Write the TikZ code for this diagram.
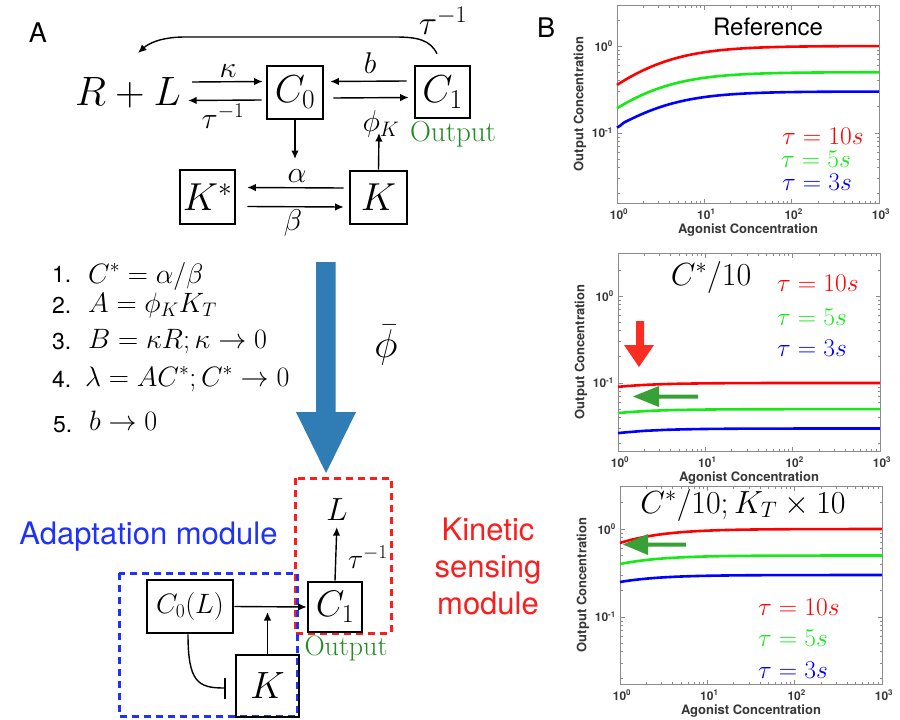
\RequirePackage{fix-cm}
\documentclass[tikz,border=0pt]{standalone}
\usepackage{fontspec}
\usetikzlibrary{arrows.meta,calc}
\newfontfamily\hv{TeX Gyre Heros}
\definecolor{outgreen}{RGB}{34,139,34}
\definecolor{bigblue}{RGB}{47,125,180}
\definecolor{modblue}{RGB}{30,50,250}
\definecolor{modred}{RGB}{250,30,30}
\definecolor{cred}{RGB}{255,0,0}
\definecolor{cgreen}{RGB}{20,235,20}
\definecolor{cblue}{RGB}{0,0,255}
\definecolor{axgray}{RGB}{140,140,140}
\definecolor{labgray}{RGB}{55,55,55}
\definecolor{arrred}{RGB}{250,45,35}
\definecolor{arrgreen}{RGB}{55,160,55}
% #1 X0, #2 Ytop, #3 Ybot, #4 Y of 10^0, #5 decade length
\newcommand{\plotaxes}[5]{%
  \draw[axgray,line width=0.8pt] (#1,#2) rectangle ({#1+262},#3);
  \foreach \d in {0,1,2}{\foreach \m in {2,...,9}{
    \draw[axgray,line width=0.6pt] ({#1+87.33*(\d+log10(\m))},#3) -- ++(0,-2.5)
      ({#1+87.33*(\d+log10(\m))},#2) -- ++(0,2.5);}}
  \foreach \d in {1,2}{
    \draw[axgray,line width=0.6pt] ({#1+87.33*\d},#3) -- ++(0,-4.5)
      ({#1+87.33*\d},#2) -- ++(0,4.5);}
  \foreach \v in {0.02,0.03,0.04,0.05,0.06,0.07,0.08,0.09,0.2,0.3,0.4,0.5,0.6,0.7,0.8,0.9,2}{
    \draw[axgray,line width=0.6pt] (#1,{#4-#5*log10(\v)}) -- ++(2.5,0)
      ({#1+262},{#4-#5*log10(\v)}) -- ++(-2.5,0);}
  \foreach \w in {0,1}{
    \draw[axgray,line width=0.6pt] (#1,{#4+#5*\w}) -- ++(4.5,0)
      ({#1+262},{#4+#5*\w}) -- ++(-4.5,0);}
  \node[ticklab,anchor=east] at ({#1-4},#4) {10\textsuperscript{0}};
  \node[ticklab,anchor=east] at ({#1-4},{#4+#5}) {10\textsuperscript{-1}};
  \foreach \d in {0,1,2,3}{
    \node[ticklab,anchor=north] at ({#1+87.33*\d+2},{#3+6}) {10\textsuperscript{\d}};}
  \node[axlab] at ({#1+131},{#3+27}) {Agonist Concentration};
  \node[axlab,rotate=90] at ({#1-37},{(#2+#3)/2}) {Output Concentration};
}
\begin{document}
\begin{tikzpicture}[x=1pt,y=-1pt,
  big/.style={inner sep=0pt,font=\fontsize{41}{45}\selectfont},
  boxn/.style={draw,line width=2.6pt,inner sep=0pt,font=\fontsize{39}{45}\selectfont},
  rate/.style={inner sep=0pt,font=\fontsize{30}{34}\selectfont},
  arr/.style={line width=1.4pt,-{Latex[length=8.5pt,width=7.5pt]}},
  num/.style={inner sep=0pt,anchor=base west,font=\hv\fontsize{23}{23}\selectfont},
  eq/.style={inner sep=0pt,anchor=base west,font=\fontsize{28}{30}\selectfont},
  dashbox/.style={line width=3pt,dash pattern=on 7pt off 5pt},
  modlab/.style={inner sep=0pt,font=\hv\fontsize{31}{37}\selectfont,align=center},
  curve/.style={line width=2.6pt},
  leg/.style={inner sep=0pt,anchor=west,font=\fontsize{25.5}{28}\selectfont},
  ticklab/.style={inner sep=0pt,font=\hv\bfseries\fontsize{12}{12}\selectfont,text=labgray},
  axlab/.style={inner sep=0pt,font=\hv\bfseries\fontsize{13}{13}\selectfont,text=labgray},
  panel/.style={inner sep=0pt,font=\hv\fontsize{27}{27}\selectfont},
  outlab/.style={inner sep=0pt,text=outgreen,font=\fontsize{29}{32}\selectfont},
]
\useasboundingbox (0,0) rectangle (900,720);
\fill[white] (0,0) rectangle (900,720);

% ---------- panel labels
\node[panel] (A) at (38,33) {A};
\node[panel] (B) at (546,28) {B};

% ---------- top reaction scheme
\node[big] (RL) at (128,93) {$R+L$};
\node[boxn,minimum width=56,minimum height=53] (C0) at (295,92.5) {$C_0$};
\node[boxn,minimum width=55,minimum height=52] (C1) at (442.5,92) {$C_1$};
\node[boxn,minimum width=55,minimum height=54] (Ks) at (207.5,197) {$K^*$};
\node[boxn,minimum width=57,minimum height=53] (K) at (378.5,197.5) {$K$};

\draw[arr] ($(RL.east)+(11,-11)$) -- ($(C0.west)+(-3,-11)$);
\draw[arr] ($(C0.west)+(-4,7.5)$) -- ($(RL.east)+(7,7.5)$);
\draw[arr] ($(C1.west)+(-7,-11)$) -- ($(C0.east)+(6,-11)$);
\draw[arr] ($(C0.east)+(9,5.5)$) -- ($(C1.west)+(-5,5.5)$);
\coordinate (c0end) at (295,159);
\draw[arr] (C0.south) -- (c0end);
\coordinate (kend) at (379,133);
\draw[arr] (K.north) -- (kend);
\draw[arr] ($(K.west)+(-5,-9.5)$) -- ($(Ks.east)+(11,-9.5)$);
\draw[arr] ($(Ks.east)+(11,9.5)$) -- ($(K.west)+(-5,9.5)$);
\coordinate (retend) at (138,53);
\draw[arr] ($(C1.north)+(-5.5,-11)$) .. controls (430,40) and (418,37) .. (395,37)
   -- (185,37) .. controls (160,37) and (148,44) .. (retend);

\node[rate] (lkappa) at (228,71) {$\kappa$};
\node[rate] (ltau1) at (223,116) {$\tau^{-1}$};
\node[rate] (lb) at (370,63) {$b$};
\node[rate] (lphi) at (381,124) {$\phi_K$};
\node[rate] (lalpha) at (297,176) {$\alpha$};
\node[rate] (lbeta) at (293,223) {$\beta$};
\node[rate,font=\fontsize{34}{38}\selectfont] (ltau2) at (443,21) {$\tau^{-1}$};
\node[outlab] (out1) at (453,134) {Output};

% ---------- list
\node[num] (n1) at (52,282) {1.};
\node[eq] (e1) at (88,283) {$C^*=\alpha/\beta$};
\node[num] (n2) at (52,313) {2.};
\node[eq] (e2) at (88,312) {$A=\phi_K K_T$};
\node[num] (n3) at (52,349) {3.};
\node[eq] (e3) at (88,348) {$B=\kappa R;\kappa\to0$};
\node[num] (n4) at (52,387) {4.};
\node[eq] (e4) at (85,386) {$\lambda=AC^*;C^*\to0$};
\node[num] (n5) at (53,432) {5.};
\node[eq] (e5) at (89,430) {$b\to0$};

% ---------- big blue arrow
\fill[bigblue] (316,262) -- (335.5,262) -- (335.5,412) -- (356,412) -- (326,473) -- (296,412) -- (316,412) -- cycle;
\node[inner sep=0pt,font=\fontsize{40}{44}\selectfont] (phibar) at (386,345) {$\bar\phi$};

% ---------- bottom module diagram
\draw[modred,dashbox] (295,478) rectangle (391,633);
\draw[modblue,dashbox] (119,573) rectangle (297,716);
\node[inner sep=0pt,font=\fontsize{32}{36}\selectfont] (L) at (337,510) {$L$};
\node[boxn,minimum width=54,minimum height=50,font=\fontsize{37}{40}\selectfont] (C1b) at (335,607) {$C_1$};
\node[boxn,minimum width=86,minimum height=53,font=\fontsize{28}{32}\selectfont] (C0L) at (190,606.5) {$C_0(L)$};
\node[boxn,minimum width=63,minimum height=62,font=\fontsize{38}{40}\selectfont] (Kb) at (267.5,686) {$K$};
\draw[arr,shorten >=6pt] (C1b.north) -- (L.south);
\node[rate,font=\fontsize{28}{32}\selectfont] (ltau3) at (368,557) {$\tau^{-1}$};
\draw[arr] (C0L.east) -- (C1b.west);
\coordinate (kbend) at (267.5,612);
\draw[arr] (Kb.north) -- (kbend);
\draw[line width=1.4pt,-{Bar[width=21pt,line width=2.2pt]}] ($(C0L.south)+(-2,0)$) .. controls (188,682) and (198,688) .. ($(Kb.west)+(-9,2)$);
\node[outlab,font=\fontsize{28}{32}\selectfont] (out2) at (346,648) {Output};
\node[modlab,text=modblue] (adapt) at (148.5,537) {Adaptation module};
\node[modlab,text=modred] (kin) at (488,566) {Kinetic\\sensing\\module};

% ---------- plot 1
\plotaxes{617}{5}{203}{46}{87}
\draw[curve,cred] plot[domain=0:3,samples=80,smooth] ({617+87.33*\x},{46-87*log10(1.0*10^\x/(10^\x+1.8))});
\draw[curve,cgreen] plot[domain=0:3,samples=80,smooth] ({617+87.33*\x},{46-87*log10(0.5*10^\x/(10^\x+1.6))});
\draw[curve,cblue] plot[domain=0:3,samples=80,smooth] ({617+87.33*\x},{46-87*log10(0.3*10^\x/(10^\x+1.6))});
\node[inner sep=0pt,font=\hv\fontsize{24}{24}\selectfont] (ref) at (768,27) {Reference};
\node[leg,text=cred] (p1a) at (782,136) {$\tau=10s$};
\node[leg,text=cgreen] (p1b) at (781,159) {$\tau=5s$};
\node[leg,text=cblue] (p1c) at (782,182) {$\tau=3s$};

% ---------- plot 2
\plotaxes{618}{253}{451}{296}{87}
\draw[curve,cred] plot[domain=0:3,samples=80,smooth] ({618+87.33*\x},{296-87*log10(0.1*10^\x/(10^\x+0.11))});
\draw[curve,cgreen] plot[domain=0:3,samples=80,smooth] ({618+87.33*\x},{296-87*log10(0.05*10^\x/(10^\x+0.11))});
\draw[curve,cblue] plot[domain=0:3,samples=80,smooth] ({618+87.33*\x},{296-87*log10(0.03*10^\x/(10^\x+0.13))});
\node[inner sep=0pt,font=\fontsize{32}{36}\selectfont] (cstar) at (711,277) {$C^*/10$};
\node[leg,text=cred] (p2a) at (777,283) {$\tau=10s$};
\node[leg,text=cgreen] (p2b) at (777,317) {$\tau=5s$};
\node[leg,text=cblue] (p2c) at (777,348) {$\tau=3s$};
\fill[arrred] (636,321) -- (644,321) -- (644,345) -- (654,345) -- (639,367) -- (624,345) -- (636,345) -- cycle;
\fill[arrgreen] (698,394.5) -- (659,394.5) -- (659,386) -- (633,396.5) -- (659,407) -- (659,398.5) -- (698,398.5) -- cycle;

% ---------- plot 3
\plotaxes{620}{486}{684}{529}{88}
\draw[curve,cred] plot[domain=0:3,samples=80,smooth] ({620+87.33*\x},{529-88*log10(1.0*10^\x/(10^\x+0.44))});
\draw[curve,cgreen] plot[domain=0:3,samples=80,smooth] ({620+87.33*\x},{529-88*log10(0.5*10^\x/(10^\x+0.25))});
\draw[curve,cblue] plot[domain=0:3,samples=80,smooth] ({620+87.33*\x},{529-88*log10(0.3*10^\x/(10^\x+0.2))});
\node[inner sep=0pt,font=\fontsize{32}{36}\selectfont] (cstark) at (743,505) {$C^*/10;K_T\times10$};
\node[leg,text=cred] (p3a) at (758,607) {$\tau=10s$};
\node[leg,text=cgreen] (p3b) at (758,638) {$\tau=5s$};
\node[leg,text=cblue] (p3c) at (758,670) {$\tau=3s$};
\fill[arrgreen] (686,542.5) -- (648,542.5) -- (648,534) -- (623,544.5) -- (648,555) -- (648,546.5) -- (686,546.5) -- cycle;
\end{tikzpicture}
\end{document}
